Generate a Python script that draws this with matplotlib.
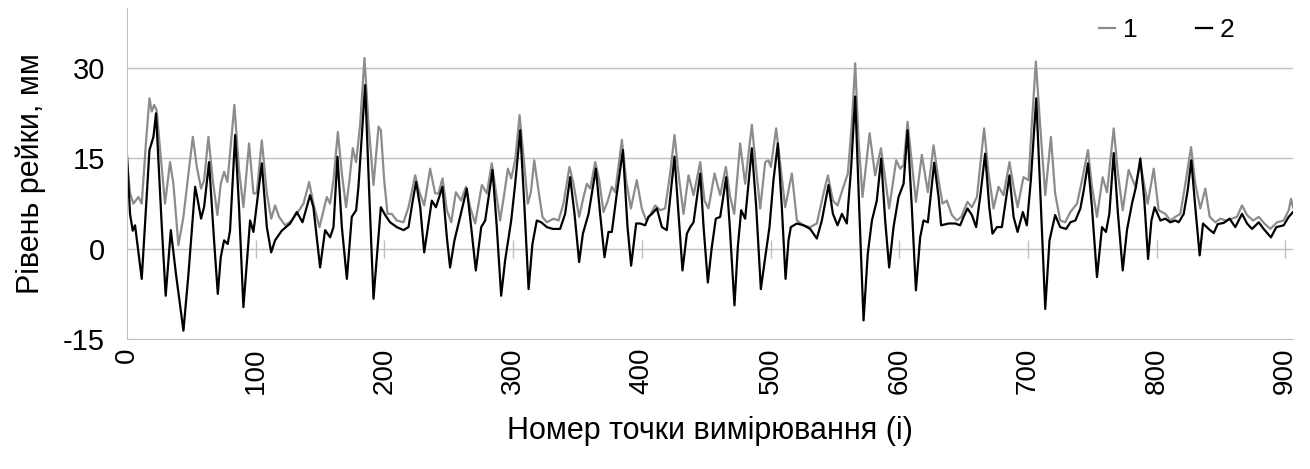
import matplotlib
matplotlib.use("Agg")
import matplotlib.pyplot as plt

# series 1 (gray) - point number / level, mm
x1 = [0, 2.3, 4.9, 8.8, 11.4, 14.8, 17.4, 19.2, 21.0, 23.0, 25.7, 29.5, 33.4, 36, 39.9,
      43.8, 47.7, 51.1, 54.2, 57.5, 59.9, 63.2, 66.6, 70.2, 72.8, 75.4, 78.0, 83.4, 87,
      90.4, 94.8, 98.2, 100.8, 104.7, 108.6, 112, 115, 118.1, 122.8, 128, 132.7, 137.1,
      141.5, 144.8, 149.5, 155.2, 157.8, 160.4, 163.8, 166.9, 170.2, 172.8, 175.4, 178,
      181.1, 184.5, 187.6, 191.5, 195.4, 197.2, 199.8, 202.4, 205.7, 209.6, 214.8, 218.7,
      223.9, 227.2, 230.9, 235.5, 239.4, 242, 245.1, 248.5, 251.9, 255.5, 259.6, 263.3,
      266.6, 270.5, 275.7, 279.6, 283.4, 286.8, 289.9, 293.3, 295.9, 298.5, 301.6, 305,
      308.1, 311.4, 313.8, 316.4, 319.7, 322.8, 326.2, 331.4, 335.3, 339.1, 343.8, 346.9,
      351.3, 354.7, 357.3, 359.9, 363.8, 366.9, 370.2, 373.6, 376.7, 379.3, 384.5, 387.8,
      391.5, 396.1, 400, 403.4, 406.5, 410.4, 414.3, 418.1, 422, 425.4, 428.5, 432.4,
      436.3, 440.2, 445.4, 448.7, 451.8, 456.5, 460.9, 465.3, 468.7, 471.8, 476.4, 480.3,
      485.5, 488.9, 492, 495.9, 498.4, 500.3, 504.4, 507.5, 511.4, 516.6, 520.5, 525.7,
      530.8, 536, 541.2, 544.6, 548.5, 552.1, 556.2, 560.1, 563.2, 565.8, 568.4, 571.5,
      577, 581.3, 585.8, 588.6, 592.2, 597.7, 600.8, 603.4, 606.5, 609.3, 613, 617.6,
      622.3, 626.7, 630.6, 633.7, 637, 641, 644.8, 648.2, 653.1, 656.5, 660.4, 666,
      669.4, 673.3, 677.2, 681.1, 685.7, 688.9, 692, 696.6, 700.5, 703.1, 706.2, 709.6,
      713.5, 717.9, 721.2, 725.1, 729, 733, 738.2, 742.1, 746.7, 749.8, 753.7, 758.1,
      761.5, 766.7, 770, 773.7, 778.3, 783.5, 787.4, 793.1, 797.8, 801.6, 806.8, 810.7,
      814.6, 818.5, 822.4, 826.8, 830.1, 834, 837.9, 841.3, 845.7, 849.6, 853.5, 858.6,
      862.5, 866.4, 870.3, 875, 879.4, 883.8, 888.4, 893.6, 898.8, 902.7, 904.5, 906]
y1 = [14.5, 9.2, 7.5, 8.6, 7.5, 18.0, 25.0, 22.8, 23.9, 23.0, 16.4, 7.5, 14.4, 10.8, 0.6,
      5.3, 12.5, 18.6, 13.6, 10.0, 11.4, 18.6, 11.4, 5.6, 10.8, 12.8, 11.1, 23.9, 13.1,
      6.9, 17.5, 9.2, 9.2, 18.0, 9.2, 5.0, 7.2, 5.3, 3.9, 4.7, 6.1, 7.5,
      11.1, 7.5, 3.6, 8.6, 7.5, 11.4, 19.4, 12.5, 6.9, 11.4, 16.7, 14.4,
      20.6, 31.7, 20.8, 10.6, 20.3, 19.7, 11.4, 5.8, 5.8, 4.7, 4.4, 6.9,
      12.2, 9.4, 7.2, 13.3, 9.2, 9.2, 11.7, 6.4, 4.4, 9.4, 8.0, 10.3,
      6.9, 4.2, 10.6, 9.2, 14.2, 9.2, 4.7, 9.4, 13.3, 11.7, 14.7, 22.2,
      15.3, 7.5, 9.4, 14.7, 9.7, 5.3, 4.4, 5.0, 4.7, 7.5, 13.6, 10.8,
      5.3, 8.6, 10.8, 10.0, 14.4, 11.4, 6.1, 8.0, 10.3, 9.4, 18.1, 11.4,
      6.7, 11.4, 6.7, 4.7, 5.6, 7.2, 6.4, 6.7, 12.5, 18.9, 12.5, 5.8,
      12.2, 8.9, 14.4, 8.0, 6.7, 12.5, 8.9, 13.6, 8.6, 5.8, 17.5, 10.8,
      20.6, 13.1, 6.7, 14.4, 14.7, 13.6, 20.0, 14.2, 6.9, 12.5, 4.7, 3.9,
      3.6, 4.2, 9.2, 12.2, 8.0, 7.2, 10.0, 12.5, 20.8, 30.8, 18.1, 8.6,
      19.2, 12.2, 16.7, 12.5, 6.7, 14.7, 13.3, 13.9, 21.1, 15.3, 7.8, 15.6,
      9.4, 17.2, 11.4, 7.5, 8.0, 5.6, 4.7, 5.3, 7.8, 6.9, 8.6, 20.0,
      12.5, 6.7, 10.3, 8.9, 14.4, 10.3, 6.9, 11.9, 11.4, 20.8, 31.1, 20.3,
      8.9, 18.6, 9.2, 4.7, 4.4, 6.1, 7.5, 11.4, 16.4, 10.3, 5.3, 11.9,
      9.4, 20.0, 12.5, 6.4, 13.1, 10.3, 14.2, 7.5, 13.3, 6.4, 5.8, 4.7,
      5.3, 5.8, 10.8, 16.9, 10.8, 6.7, 10.0, 5.3, 4.4, 5.0, 4.7, 5.0,
      5.3, 7.2, 5.6, 4.7, 5.3, 4.2, 3.3, 4.4, 4.7, 6.4, 8.3, 6.9]

# series 2 (black)
x2 = [0, 2.3, 4.4, 6.2, 11.4, 17.4, 20.5, 22.5, 27, 30, 34, 38, 43.8, 47.7, 52.9, 55,
      57.5, 59.9, 63.7, 67.6, 70.5, 72.8, 75.4, 78.2, 80, 84, 87, 90.4, 95.6, 98.2,
      104.7, 108.6, 112, 115, 120.2, 126.7, 131.9, 136.3, 142.2, 144.8, 150, 153.9,
      157.8, 160.4, 163.5, 166.9, 170.8, 174.6, 178, 179.8, 185, 188.4, 191.5, 197.2,
      200.6, 204.4, 209.6, 214.8, 218.7, 222, 224.6, 227.8, 230.9, 236.8, 240, 245.1,
      248.5, 251, 254.4, 258.8, 264, 267.4, 271, 275.2, 278.3, 284, 287.3, 290.7, 293.8,
      298.5, 301.6, 305.5, 308.8, 312, 315, 318.4, 321.8, 326.2, 330.8, 336.5, 340.4,
      344.3, 347.7, 351.3, 354.2, 358.6, 364.3, 367.6, 371, 374.1, 376.7, 380.6, 385.3,
      388.9, 391.7, 395.6, 398.7, 402.6, 405.2, 407.8, 411.7, 415.6, 419.4, 425.4, 428.5,
      431.6, 435, 437.6, 440.2, 445.4, 448, 451.3, 454.4, 457.5, 460.9, 465.6, 468.2,
      472, 474.6, 477.2, 480.3, 485.5, 488.9, 492.5, 495.9, 499.2, 502.3, 505.7, 508.8,
      511.7, 514, 515.8, 520.5, 525.7, 530.8, 536, 539.9, 545.1, 548.5, 552.1, 555.5,
      559.3, 562.7, 565.8, 568.9, 572.3, 575.6, 578.8, 582.6, 586, 589.1, 592.2, 595.6,
      599.5, 603.4, 606.5, 609.8, 613, 616.3, 618.9, 622.3, 627.2, 630.6, 632.6, 638.4,
      643.5, 647.4, 650, 653.1, 656.5, 659.8, 662.9, 666.8, 670, 672.5, 675.9, 679.8,
      685.7, 688.9, 692, 696.1, 699.2, 702.3, 706.5, 709.6, 713.5, 716.8, 721.2, 725.1,
      729.8, 733, 736.9, 740.8, 743.4, 746.7, 749.8, 753.7, 757.6, 760.7, 763.3, 766.7,
      770, 773.7, 777, 780.9, 784, 787.4, 790.5, 793.4, 796, 798.5, 803, 806.8, 810.7,
      814.6, 817.2, 821.1, 824.2, 827, 830.1, 833.5, 836.1, 840.5, 844.4, 847.5, 852.2,
      856.8, 861.2, 866.4, 870.3, 874.2, 879.4, 883.2, 888.9, 893.1, 898.8, 902.7, 906]
y2 = [15.3, 5.8, 3.0, 3.9, -5.0, 16.4, 18.6, 22.5, 3.6, -7.8, 3.1, -4.2, -13.6, -4.2, 10.3, 8.0,
      5.0, 7.0, 14.4, 1.4, -7.5, -1.4, 1.4, 0.8, 3.0, 18.9, 6.9, -9.7, 4.7, 2.8,
      14.2, 3.6, -0.6, 1.4, 3.0, 4.2, 6.1, 4.4, 8.9, 6.9, -3.1, 3.1,
      1.9, 3.6, 15.3, 3.6, -5.0, 5.3, 6.4, 10.3, 27.2, 8.0, -8.3, 6.9,
      5.6, 4.4, 3.6, 3.1, 3.6, 8.0, 11.1, 6.9, -0.6, 8.0, 6.9, 10.3,
      1.9, -3.1, 1.4, 5.3, 10.0, 3.6, -3.6, 3.6, 4.7, 13.1, 3.6, -7.8, -1.9,
      4.7, 10.8, 19.7, 6.9, -6.7, 0.8, 4.7, 4.4, 3.6, 3.3, 3.3, 5.8,
      11.9, 5.8, -2.2, 2.5, 5.8, 13.3, 5.8, -1.4, 2.8, 2.8, 9.2, 16.4,
      3.6, -2.8, 4.2, 4.2, 3.9, 5.3, 5.8, 6.7, 3.6, 3.1, 15.3, 5.8,
      -3.6, 2.5, 3.6, 4.4, 12.5, 3.6, -5.6, 0.3, 5.0, 5.3, 11.9, 4.2,
      -9.4, 0.3, 6.4, 5.0, 16.7, 6.9, -6.7, -1.4, 3.6, 11.4, 17.5, 6.9,
      -5.0, 1.4, 3.6, 4.2, 3.9, 3.3, 1.7, 4.7, 10.6, 5.8, 3.9, 5.8,
      4.2, 13.6, 25.3, 6.9, -11.9, -0.8, 4.7, 8.0, 15.0, 4.7, -3.1, 3.6,
      8.6, 10.8, 19.7, 6.9, -6.9, 1.9, 4.7, 4.4, 14.3, 8.6, 3.9, 4.2,
      4.2, 3.9, 5.3, 6.7, 5.6, 3.6, 8.6, 15.8, 6.9, 2.5, 3.6, 3.6,
      12.2, 5.3, 2.8, 6.1, 3.9, 11.4, 25.0, 9.7, -10.0, 1.4, 5.6, 3.6,
      3.3, 4.4, 4.7, 6.7, 9.7, 14.2, 6.9, -4.7, 3.6, 2.8, 5.8, 15.9,
      5.8, -3.6, 3.1, 7.5, 10.3, 15.0, 8.0, -1.7, 4.7, 6.9, 4.7, 5.0, 4.4,
      4.7, 4.4, 5.8, 9.7, 14.7, 6.9, -1.1, 4.2, 3.3, 2.6, 4.1, 4.3,
      5.0, 3.6, 5.8, 4.2, 3.3, 4.4, 3.3, 1.9, 3.6, 3.9, 5.3, 6.1]

x_ticks = [0, 100, 200, 300, 400, 500, 600, 700, 800, 900]
y_ticks = [-15, 0, 15, 30]
labels = ["1", "2"]

plt.rcParams['font.family'] = ['Liberation Sans', 'DejaVu Sans']

fig = plt.figure(figsize=(13.1, 4.69), dpi=100)
ax = fig.add_axes([0.097, 0.277, 0.890, 0.706])

ax.plot(x1, y1, color='#8c8c8c', lw=1.6, label=labels[0])
ax.plot(x2, y2, color='black', lw=1.6, label=labels[1])

ax.set_xlim(0, 906)
ax.set_ylim(-15, 40)

# gridlines at 0, 15, 30
for v in y_ticks[1:]:
    ax.axhline(v, color='#bfbfbf', lw=1, zorder=0)
# small tick marks on the zero line
ax.vlines(x_ticks[1:], -1.5, 1.5, color='#bfbfbf', lw=1, zorder=0)

for s in ['top', 'right']:
    ax.spines[s].set_visible(False)
ax.spines['left'].set_color('#bfbfbf')
ax.spines['bottom'].set_color('#bfbfbf')

ax.set_yticks(y_ticks)
ax.set_yticklabels([str(v) for v in y_ticks])
ax.set_xticks(x_ticks)
ax.set_xticklabels([str(v) for v in x_ticks], rotation=90)
ax.tick_params(axis='x', length=0, labelsize=20, pad=6)
ax.tick_params(axis='y', length=0, labelsize=21, pad=16)

ax.set_ylabel('Рівень рейки, мм', fontsize=22, labelpad=12)
ax.set_xlabel('Номер точки вимірювання (і)', fontsize=22, labelpad=16)

ax.legend(loc='upper right', ncol=2, frameon=False, fontsize=19,
          handlelength=0.6, handletextpad=0.3, columnspacing=2.2,
          bbox_to_anchor=(0.97, 1.04))

fig.savefig('out.png', dpi=100)
